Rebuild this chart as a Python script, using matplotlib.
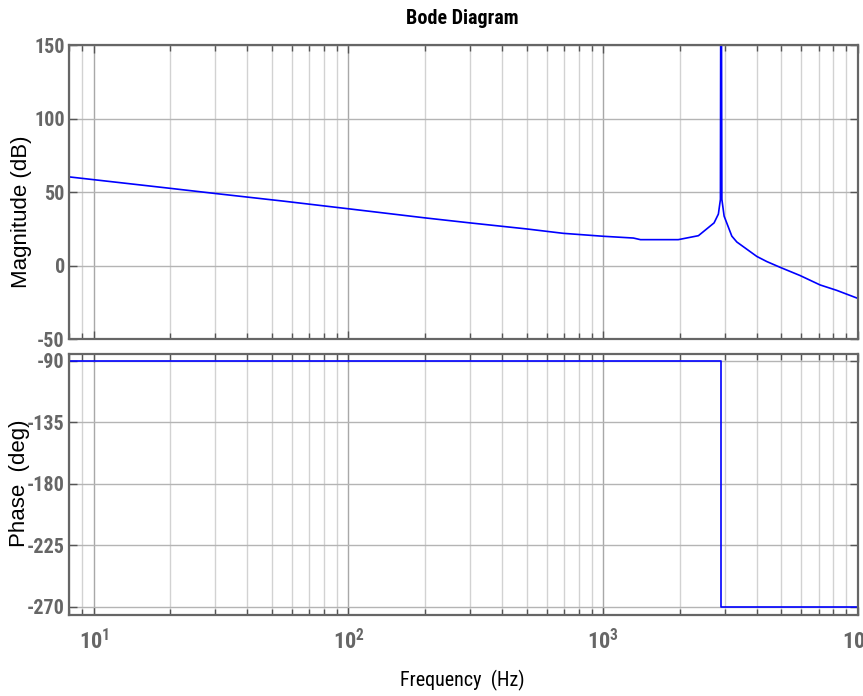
import matplotlib
matplotlib.use("Agg")
import matplotlib.pyplot as plt
from matplotlib import font_manager
from matplotlib.ticker import FixedLocator, NullFormatter

# magnitude response (Hz, dB)
freq_mag = [8, 10, 20, 30, 55.6, 100, 200, 300, 500, 697, 1000, 1313, 1400,
            1970, 2364, 2723, 2831, 2884, 2900, 2922, 2982, 3197, 3345, 4006,
            4385, 4943, 5923, 7097, 8253, 10000]
mag_db = [60.3, 58.4, 52.5, 49.0, 43.8, 38.6, 32.4, 29.0, 24.9, 21.9, 19.9,
          18.7, 17.6, 17.6, 20.3, 29.0, 35.0, 45.0, 300.0, 45.0, 33.6, 20.0,
          16.0, 6.2, 2.7, -1.2, -6.8, -13.2, -16.9, -22.4]

# phase response (Hz, deg)
freq_phase = [8, 2900, 2900, 10000]
phase_deg = [-90, -90, -270, -270]

mag_ticks = [-50, 0, 50, 100, 150]
phase_ticks = [-270, -225, -180, -135, -90]
freq_ticks = [10, 100, 1000, 10000]
freq_labels = [r'$\mathregular{10^{1}}$', r'$\mathregular{10^{2}}$',
               r'$\mathregular{10^{3}}$', r'$\mathregular{10^{4}}$']

# pick a condensed face if one is around, otherwise plain Liberation Sans
installed = {f.name for f in font_manager.fontManager.ttflist}
narrow_face = next((n for n in ('Liberation Sans Narrow', 'Noto Sans Condensed',
                                'Roboto Condensed', 'Open Sans Condensed')
                    if n in installed), None)
if narrow_face:
    narrow = [narrow_face, 'Liberation Sans', 'DejaVu Sans']
    tick_size, xtick_size, title_size, xlab_size = 14.5, 16, 14.5, 14.5
else:
    narrow = ['Liberation Sans', 'DejaVu Sans']
    tick_size, xtick_size, title_size, xlab_size = 12, 13, 12.5, 14
plain = ['Liberation Sans', 'DejaVu Sans']
tick_grey = '#666666'

minor = [m * 10 ** e for e in range(0, 4) for m in range(2, 10)]

fig = plt.figure(figsize=(8.63, 6.96), dpi=100)
ax_mag = fig.add_axes([0.080, 0.5129, 0.9142, 0.4224])
ax_ph = fig.add_axes([0.080, 0.1164, 0.9142, 0.3750])


def style_axes(ax, yticks):
    ax.set_xscale('log')
    ax.set_xlim(8, 10000)
    ax.xaxis.set_major_locator(FixedLocator(freq_ticks))
    ax.xaxis.set_minor_locator(FixedLocator(minor))
    ax.xaxis.set_minor_formatter(NullFormatter())
    ax.set_yticks(yticks)
    ax.grid(True, which='major', axis='x', color='#a8a8a8', lw=1.0)
    ax.grid(True, which='minor', axis='x', color='#d2d2d2', lw=1.0)
    ax.grid(True, which='major', axis='y', color='#b4b4b4', lw=1.0)
    ax.set_axisbelow(True)
    ax.tick_params(which='both', direction='in', top=True, right=True,
                   colors='#555555', labelcolor=tick_grey)
    ax.tick_params(which='major', length=6, width=1.0)
    ax.tick_params(which='minor', length=4, width=1.0)
    ax.tick_params(axis='y', pad=3)
    ax.tick_params(axis='x', pad=10)
    for sp in ax.spines.values():
        sp.set_color('#666666')
        sp.set_linewidth(1.6)


style_axes(ax_mag, mag_ticks)
ax_mag.set_ylim(-50, 150)
ax_mag.set_yticklabels([str(t) for t in mag_ticks])
ax_mag.xaxis.set_major_formatter(NullFormatter())
ax_mag.plot(freq_mag, mag_db, color='#0000ff', lw=1.2)

style_axes(ax_ph, phase_ticks)
ax_ph.set_ylim(-276, -85)
ax_ph.set_yticklabels([str(t) for t in phase_ticks])
ax_ph.set_xticklabels(freq_labels)
ax_ph.plot(freq_phase, phase_deg, color='#0000ff', lw=1.2)

for ax in (ax_mag, ax_ph):
    for lbl in ax.get_yticklabels() + ax.get_xticklabels():
        lbl.set_family(narrow)
        lbl.set_weight('bold')
        lbl.set_color(tick_grey)
        lbl.set_fontsize(tick_size)
for lbl in ax_ph.get_xticklabels():
    lbl.set_fontsize(xtick_size)

fig.text(0.5353, 1 - 19 / 696, 'Bode Diagram', ha='center', va='center',
         family=narrow, weight='bold', fontsize=title_size)
fig.text(0.5353, 1 - 680 / 696, 'Frequency  (Hz)', ha='center', va='center',
         family=narrow, fontsize=xlab_size)
fig.text(0.0245, 1 - 212 / 696, 'Magnitude (dB)', ha='center', va='center',
         rotation=90, family=plain, fontsize=16)
fig.text(0.0225, 1 - 483 / 696, 'Phase  (deg)', ha='center', va='center',
         rotation=90, family=plain, fontsize=16)

fig.savefig('out.png', dpi=100)
